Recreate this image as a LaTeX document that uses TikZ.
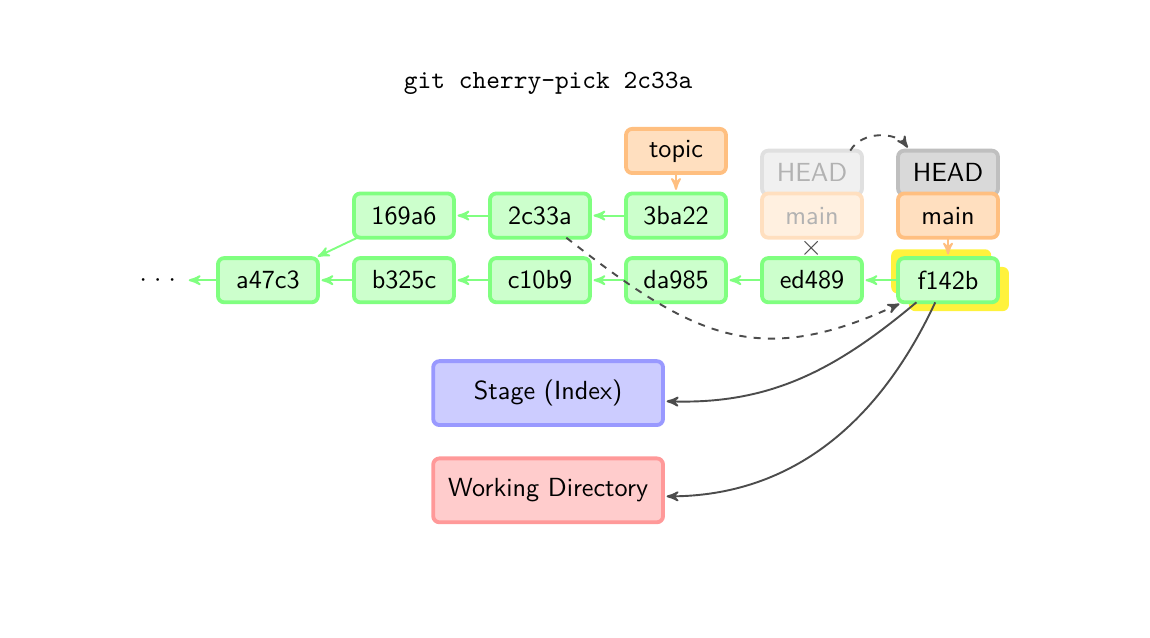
\documentclass[tikz,border=0pt,11pt]{standalone}
\usepackage{tikz}
\usetikzlibrary{arrows,calc,positioning,shapes,shadows}
\renewcommand{\familydefault}{\sfdefault}
\definecolor{hilite}{RGB}{255,242,60}
\newdimen\hdim
\newdimen\wdim
\hdim=.65cm
\wdim=1.47cm
\tikzstyle{commit}=[
  draw=green!50,
  fill=green!20,
  inner sep=0pt,
  minimum height=\hdim,
  minimum width=\wdim,
  outer sep=0pt,
  rectangle,
  rounded corners=\wdim/16,
  text centered,
  ultra thick,
]
\tikzstyle{branch}=[commit, draw=orange!50, fill=orange!25]
\tikzstyle{head}=[commit, draw=black!25, fill=black!15]
\tikzstyle{oldbranch}=[commit, draw=orange!25, fill=orange!12, text=black!30]
\tikzstyle{oldhead}=[commit, draw=black!12, fill=black!6, text=black!30]
\tikzstyle{area}=[commit, minimum width=3.38cm, minimum height=.94cm]
\tikzstyle{picked}=[
  copy shadow={shadow xshift=.16cm, shadow yshift=-.13cm, fill=hilite, draw=none, opacity=1},
  copy shadow={shadow xshift=-.1cm, shadow yshift=.13cm, fill=hilite, draw=none, opacity=1},
]
\tikzstyle{parent}=[->, green!50, thick]
\tikzstyle{ref}=[->, orange!50, thick]
\tikzstyle{move}=[->, black!70, thick]
\tikzset{
  node distance=2cm,
  >=stealth',
  shorten >=1.5pt,
}
\begin{document}
\begin{tikzpicture}
      \useasboundingbox (-3.94,-5.25) rectangle (12.97,4.12);
      \node at (4.12,2.9) {\ttfamily git cherry-pick 2c33a};
      % commits
      \node (a47c3) [commit] {a47c3};
      \node (dots) [left of=a47c3, node distance=1.62cm] {${\cdot}\;{\cdot}\;{\cdot}$};
      \node (b325c) [commit, right of=a47c3] {b325c};
      \node (c10b9) [commit, right of=b325c] {c10b9};
      \node (da985) [commit, right of=c10b9] {da985};
      \node (ed489) [commit, right of=da985] {ed489};
      \node (f142b) [commit, picked, right of=ed489] {f142b};
      \node (c169a6) [commit, above of=b325c, node distance=.95cm] {169a6};
      \node (c2c33a) [commit, right of=c169a6] {2c33a};
      \node (c3ba22) [commit, right of=c2c33a] {3ba22};
      % refs
      \node (topic) [branch, above of=c3ba22, node distance=.95cm] {topic};
      \node (oldhead) [oldhead, above of=ed489, node distance=1.58cm] {HEAD};
      \node (oldmain) [oldbranch, above of=ed489, node distance=.95cm] {main};
      \node (head) [head, above of=f142b, node distance=1.58cm] {HEAD};
      \node (main) [branch, above of=f142b, node distance=.95cm] {main};
      \node (cross) [black!70, inner sep=0pt] at ($(oldmain.south)!.5!(ed489.north)$) {\large$\times$};
      % areas
      \node (stage) [area, draw=blue!40, fill=blue!20] at (4.12,-1.66) {Stage (Index)};
      \node (workdir) [area, draw=red!40, fill=red!20] at (4.12,-3.09) {Working Directory};
      % history
      \draw [parent] (a47c3) -- (dots);
      \draw [parent] (b325c) -- (a47c3);
      \draw [parent] (c10b9) -- (b325c);
      \draw [parent] (da985) -- (c10b9);
      \draw [parent] (ed489) -- (da985);
      \draw [parent] (f142b) -- (ed489);
      \draw [parent] (c169a6) -- (a47c3);
      \draw [parent] (c2c33a) -- (c169a6);
      \draw [parent] (c3ba22) -- (c2c33a);
      \draw [ref] (topic) -- (c3ba22);
      \draw [ref] (main) -- (f142b);
      % cherry-pick
      \draw [move, dashed] (oldhead.30) to[out=60, in=125] (head.150);
      \draw [move, dashed] (c2c33a.-40) to[out=-38, in=205, looseness=1.2] (f142b.-154);
      \draw [move] (f142b.-145) to[out=-140, in=-2] (stage.-4);
      \draw [move] (f142b.-120) to[out=-115, in=0] (workdir.-3);
    \end{tikzpicture}
\end{document}
